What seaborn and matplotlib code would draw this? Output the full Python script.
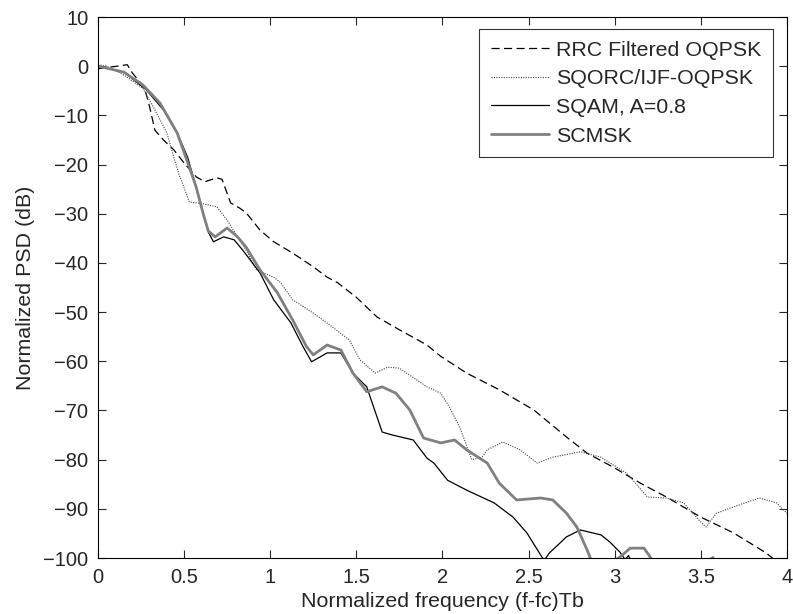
import numpy as np
import pandas as pd
import seaborn as sns
import matplotlib
matplotlib.use("Agg")
import matplotlib.pyplot as plt

# values
rrc_x = [0, 0.11, 0.17, 0.20, 0.27, 0.30, 0.33, 0.38, 0.44, 0.50, 0.57, 0.62, 0.69, 0.72,
         0.77, 0.82, 0.86, 0.94, 1.02, 1.13, 1.25, 1.33, 1.39, 1.50, 1.62, 1.75, 1.91, 1.99,
         2.14, 2.33, 2.53, 2.72, 2.84, 2.99, 3.15, 3.30, 3.50, 3.69, 3.88, 3.95]
rrc_y = [-0.5, 0, 0.3, -1.4, -4.4, -8.3, -13, -15, -17, -19.7, -22.5, -23.5, -22.7, -23,
         -27.8, -28.8, -29.8, -33.3, -35.7, -38, -40.8, -42.9, -44, -47, -51, -53.6, -56.7, -59,
         -62.4, -65.8, -69.9, -75.4, -78.7, -81.5, -84.8, -87.6, -91.7, -94.9, -99, -101]

sqorc_x = [0, 0.05, 0.15, 0.26, 0.34, 0.40, 0.44, 0.47, 0.49, 0.53, 0.60, 0.69, 0.75, 0.81,
           0.86, 0.92, 1.02, 1.06, 1.13, 1.25, 1.36, 1.46, 1.52, 1.61, 1.68, 1.75, 1.91, 1.99,
           2.04, 2.10, 2.17, 2.23, 2.26, 2.35, 2.45, 2.55, 2.64, 2.80, 2.92, 3.07, 3.19, 3.30,
           3.40, 3.50, 3.53, 3.59, 3.69, 3.84, 3.94, 4.0]
sqorc_y = [0.3, 0, -1.8, -4.5, -9.5, -13.6, -18.5, -22, -23.8, -27.6, -27.9, -28.6, -31.3, -34.7,
           -37.4, -41.4, -42.9, -44, -47.5, -50.2, -53, -55.7, -59.7, -62.4, -61.2, -61.4, -65.2, -66.5,
           -69.3, -73.4, -80, -79.5, -78, -76.4, -78, -80.7, -79.5, -78.4, -79.5, -82.8, -87.6, -87.8,
           -88.8, -92.7, -93.7, -90.9, -89.6, -87.8, -88.8, -90.9]

sqam_x = [0, 0.15, 0.28, 0.38, 0.46, 0.52, 0.57, 0.61, 0.64, 0.67, 0.73, 0.79, 0.84, 0.94,
          1.02, 1.12, 1.19, 1.24, 1.33, 1.41, 1.48, 1.56, 1.60, 1.65, 1.71, 1.83, 1.91, 1.95,
          2.03, 2.14, 2.30, 2.41, 2.49, 2.57, 2.59, 2.62, 2.72, 2.80, 2.92, 2.97, 3.03, 3.06,
          3.08, 3.10]
sqam_y = [0, -1.2, -4.8, -8.9, -13.6, -18.5, -24.6, -29.9, -33.7, -35.7, -34.7, -35.3, -37.4, -42,
          -47.5, -52.2, -57, -60.1, -58.3, -58.3, -62.4, -65.2, -69.3, -74.4, -75, -76, -79.7, -80.7,
          -84.2, -86.2, -88.8, -91.7, -94.9, -99.4, -100.5, -99, -95.7, -94.3, -95.3, -96.7, -98.8, -100.3,
          -99.5, -101]

scmsk_x = [0, 0.15, 0.26, 0.36, 0.46, 0.53, 0.57, 0.61, 0.64, 0.68, 0.75, 0.81, 0.86, 0.94,
           1.04, 1.13, 1.21, 1.25, 1.33, 1.41, 1.48, 1.56, 1.65, 1.73, 1.81, 1.89, 1.99, 2.07,
           2.14, 2.26, 2.33, 2.43, 2.57, 2.64, 2.72, 2.78, 2.84, 2.87, 2.95, 3.00, 3.03, 3.09,
           3.17, 3.22, 3.40, 3.57, 3.62]
scmsk_y = [0, -1.2, -3.8, -7.5, -13.6, -20.5, -24.6, -29.9, -33.5, -34.7, -32.9, -34.7, -36.8, -41.4,
           -46, -51.6, -57, -58.7, -56.7, -57.7, -62.4, -66.2, -65.2, -66.5, -69.9, -75.6, -76.6, -76,
           -78, -80.7, -84.8, -88.2, -87.8, -88.2, -90.9, -93.7, -98.4, -101, -104, -100.5, -99.8, -98,
           -98, -100.5, -104, -99.9, -103]

labels = ["RRC Filtered OQPSK", "SQORC/IJF-OQPSK", "SQAM, A=0.8", "SCMSK"]
x_ticks = [0, 0.5, 1, 1.5, 2, 2.5, 3, 3.5, 4]
y_ticks = list(range(-100, 11, 10))

sns.set_style("ticks")
plt.rcParams['font.family'] = ['Liberation Sans', 'DejaVu Sans']
plt.rcParams['xtick.direction'] = 'in'
plt.rcParams['ytick.direction'] = 'in'

fig = plt.figure(figsize=(7.93, 6.14), dpi=100)
ax = fig.add_axes([0.1236, 0.0912, 0.8688, 0.8811])

sns.lineplot(x=rrc_x, y=rrc_y, ax=ax, sort=False, estimator=None, color='black',
             linewidth=0.9, linestyle=(0, (6.5, 3.5)), label=labels[0])
sns.lineplot(x=sqorc_x, y=sqorc_y, ax=ax, sort=False, estimator=None, color='#444444',
             linewidth=0.8, linestyle=(0, (1, 1.2)), label=labels[1])
sns.lineplot(x=sqam_x, y=sqam_y, ax=ax, sort=False, estimator=None, color='black',
             linewidth=0.9, label=labels[2])
sns.lineplot(x=scmsk_x, y=scmsk_y, ax=ax, sort=False, estimator=None, color='#808080',
             linewidth=2.0, label=labels[3])

ax.set_xlim(0, 4)
ax.set_ylim(-100, 10)
ax.set_xticks(x_ticks)
ax.set_xticklabels([f"{t:g}" for t in x_ticks])
ax.set_yticks(y_ticks)
ax.tick_params(axis='both', labelsize=14.5, length=6, width=0.8,
               top=True, right=True)
ax.tick_params(axis='x', pad=7)
ax.tick_params(axis='y', pad=7)
for s in ax.spines.values():
    s.set_visible(True)
    s.set_linewidth(0.8)
    s.set_color('black')

ax.set_xlabel("Normalized frequency (f-fc)Tb", fontsize=15.4, labelpad=4)
ax.set_ylabel("Normalized PSD (dB)", fontsize=15.4, labelpad=6)

leg = ax.legend(loc='upper right', bbox_to_anchor=(0.98, 0.978), borderaxespad=0,
                fontsize=15.4, frameon=True, fancybox=False, edgecolor='black',
                handlelength=2.7, handletextpad=0.35, labelspacing=0.45,
                borderpad=0.55)
leg.get_frame().set_linewidth(0.8)

fig.savefig("out.png", dpi=100)
